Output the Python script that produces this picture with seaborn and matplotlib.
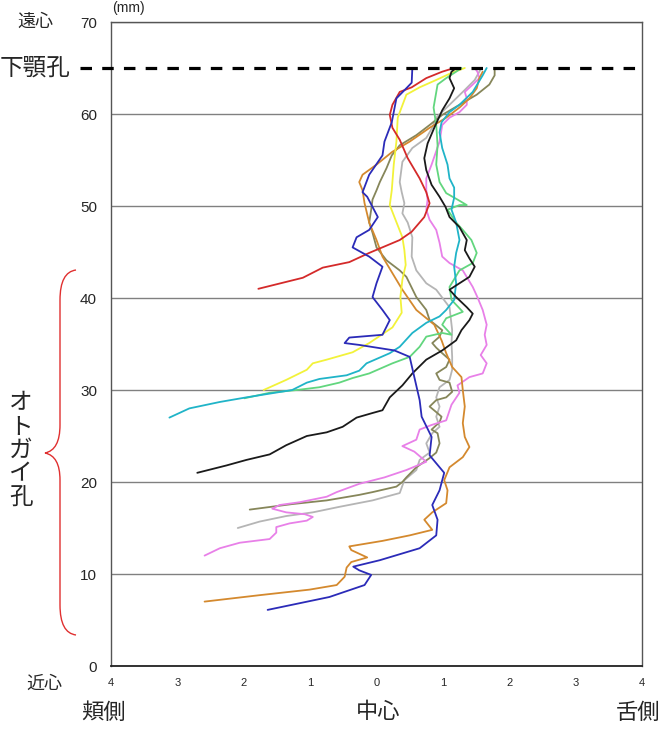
import numpy as np
import pandas as pd
import matplotlib
matplotlib.use('Agg')
import matplotlib.pyplot as plt
import seaborn as sns
from matplotlib.path import Path
from matplotlib.patches import PathPatch

# Canal course per specimen: lateral position (mm, buccal < 0 < lingual) vs height (mm)
blue_x = [-1.64, -0.71, -0.18, -0.08, -0.26, -0.35, 0.05, 0.65, 0.90, 0.92, 0.84, 0.95, 1.02, 0.80, 0.83, 0.68, 0.65, 0.57, 0.50, 0.27, -0.26, -0.48, -0.41, 0.09, 0.20, 0.09, -0.06, 0.0, 0.09, -0.11, -0.36, -0.30, -0.11, 0.02, -0.06, -0.14, -0.21, -0.11, 0.09, 0.12, 0.23, 0.30, 0.45, 0.53, 0.54]
blue_y = [6.1, 7.5, 8.8, 9.9, 10.4, 10.8, 11.5, 12.8, 14.2, 15.9, 17.5, 19.1, 21.0, 22.9, 24.9, 27.1, 28.9, 31.4, 33.6, 34.3, 34.9, 35.1, 35.7, 36.0, 37.6, 38.7, 40.1, 41.6, 43.4, 44.5, 45.5, 46.6, 47.4, 48.8, 49.9, 51.0, 51.5, 53.4, 55.5, 57.0, 59.1, 61.7, 62.8, 63.4, 65.0]

red_x = [-1.78, -1.11, -0.81, -0.41, -0.11, 0.35, 0.53, 0.72, 0.80, 0.75, 0.65, 0.47, 0.35, 0.24, 0.20, 0.24, 0.35, 0.53, 0.75, 0.99, 1.17]
red_y = [41.0, 42.2, 43.3, 43.9, 44.9, 46.3, 47.2, 48.8, 50.3, 51.5, 53.0, 55.2, 57.2, 58.5, 59.9, 61.0, 62.4, 62.9, 63.9, 64.6, 65.0]

yellow_x = [-1.70, -1.36, -1.05, -0.96, -0.75, -0.36, -0.11, 0.24, 0.38, 0.36, 0.39, 0.44, 0.42, 0.39, 0.27, 0.20, 0.23, 0.26, 0.30, 0.32, 0.45, 0.65, 0.90, 1.14, 1.33]
yellow_y = [30.0, 31.1, 32.2, 32.9, 33.3, 34.1, 35.1, 36.8, 38.4, 40.1, 42.0, 43.6, 45.2, 46.6, 48.8, 50.1, 51.7, 54.5, 57.0, 59.6, 62.1, 62.9, 63.7, 64.5, 65.0]

cyan_x = [-3.12, -2.82, -2.36, -1.96, -1.27, -1.05, -0.86, -0.45, -0.26, -0.15, 0.20, 0.35, 0.54, 0.75, 0.95, 1.05, 1.17, 1.20, 1.17, 1.20, 1.25, 1.20, 1.13, 1.17, 1.17, 1.10, 1.07, 0.99, 0.95, 0.98, 1.10, 1.25, 1.45, 1.60, 1.66]
cyan_y = [27.0, 28.0, 28.7, 29.2, 30.0, 30.8, 31.2, 31.6, 32.1, 32.9, 34.0, 34.7, 36.2, 37.3, 38.0, 38.7, 39.8, 41.6, 43.4, 44.9, 46.3, 48.2, 49.6, 50.9, 52.0, 53.0, 54.5, 56.3, 58.0, 59.1, 60.2, 61.0, 62.4, 64.2, 65.0]

green_x = [-1.99, -1.61, -1.20, -0.86, -0.56, -0.36, -0.11, 0.24, 0.50, 0.65, 0.75, 0.99, 1.13, 0.99, 1.05, 1.30, 1.13, 1.10, 1.25, 1.45, 1.51, 1.43, 1.30, 1.20, 1.07, 1.25, 1.36, 1.22, 1.05, 0.95, 0.90, 0.92, 0.90, 0.86, 0.92, 1.05, 1.20, 1.28]
green_y = [29.1, 29.7, 30.0, 30.3, 30.8, 31.3, 31.8, 32.9, 33.6, 34.7, 35.8, 36.2, 36.0, 37.1, 37.8, 38.5, 39.8, 41.2, 43.0, 43.8, 44.9, 46.3, 47.4, 48.2, 49.6, 50.1, 50.1, 50.7, 51.4, 52.6, 54.5, 56.6, 58.8, 60.7, 63.2, 63.9, 64.6, 65.0]

black_x = [-2.70, -2.26, -1.96, -1.61, -1.36, -1.05, -0.75, -0.51, -0.30, -0.06, 0.09, 0.20, 0.39, 0.54, 0.75, 0.99, 1.20, 1.28, 1.40, 1.45, 1.36, 1.20, 1.10, 1.25, 1.40, 1.48, 1.40, 1.33, 1.36, 1.25, 1.10, 1.04, 0.95, 0.83, 0.75, 0.72, 0.77, 0.87, 0.99, 1.10, 1.17, 1.10, 1.13, 1.20]
black_y = [21.0, 21.8, 22.4, 23.0, 24.0, 25.0, 25.4, 26.0, 27.0, 27.5, 27.8, 29.2, 30.5, 31.8, 33.3, 34.3, 35.4, 36.5, 37.6, 38.3, 39.0, 40.1, 40.9, 41.6, 42.3, 43.4, 44.3, 45.2, 46.3, 47.7, 48.8, 49.9, 51.0, 52.3, 53.9, 55.2, 56.8, 58.5, 60.4, 61.7, 62.8, 63.9, 64.6, 65.0]

violet_x = [-2.59, -2.36, -2.06, -1.61, -1.51, -1.51, -1.31, -1.05, -0.96, -1.08, -1.36, -1.57, -1.46, -1.16, -0.75, -0.60, -0.26, 0.12, 0.45, 0.75, 0.57, 0.39, 0.60, 0.65, 0.83, 1.05, 1.13, 1.25, 1.22, 1.40, 1.60, 1.66, 1.57, 1.66, 1.63, 1.66, 1.60, 1.52, 1.45, 1.30, 1.10, 0.99, 0.95, 0.90, 0.80, 0.75, 0.77, 0.75, 0.75, 0.83, 0.95, 0.99, 1.10, 1.25, 1.36, 1.36, 1.33, 1.45, 1.55, 1.52, 1.48]
violet_y = [12.0, 12.8, 13.4, 13.8, 14.5, 15.1, 15.5, 15.8, 16.2, 16.5, 16.7, 17.1, 17.5, 17.8, 18.4, 18.9, 19.8, 20.5, 21.3, 22.2, 23.3, 23.9, 24.6, 25.7, 26.2, 26.7, 28.4, 29.7, 30.5, 31.4, 31.8, 32.9, 33.8, 34.9, 36.0, 37.1, 38.7, 40.1, 41.2, 43.0, 43.8, 44.5, 46.0, 47.4, 48.5, 49.6, 50.7, 51.7, 53.0, 54.5, 57.0, 58.8, 59.6, 60.2, 61.0, 61.7, 62.4, 63.2, 63.9, 64.6, 65.0]

olive_x = [-1.91, -1.27, -0.75, -0.26, -0.06, 0.30, 0.39, 0.45, 0.60, 0.80, 0.90, 0.95, 0.92, 0.83, 0.95, 0.98, 0.90, 0.80, 0.90, 1.05, 1.14, 1.10, 0.95, 0.90, 1.05, 1.10, 0.99, 0.90, 0.84, 0.95, 0.99, 0.80, 0.75, 0.60, 0.45, 0.35, 0.15, 0.0, -0.06, -0.11, -0.08, -0.06, 0.0, 0.05, 0.15, 0.23, 0.35, 0.60, 0.80, 0.99, 1.25, 1.51, 1.70, 1.78, 1.78]
olive_y = [17.0, 17.6, 18.0, 18.6, 18.9, 19.5, 20.0, 20.5, 21.6, 22.6, 23.2, 24.2, 25.3, 25.7, 26.5, 27.1, 27.6, 28.2, 28.9, 29.2, 29.8, 30.8, 31.1, 31.8, 32.5, 33.3, 34.0, 34.6, 35.1, 35.8, 36.5, 37.6, 38.7, 40.1, 42.3, 43.0, 44.1, 45.5, 47.1, 48.2, 49.6, 50.7, 51.7, 52.6, 54.1, 55.5, 56.6, 57.7, 58.8, 59.9, 61.0, 62.1, 63.2, 64.2, 65.0]

gray_x = [-2.09, -1.76, -1.36, -0.96, -0.56, -0.06, 0.35, 0.42, 0.60, 0.65, 0.80, 0.75, 0.84, 0.95, 0.90, 0.95, 0.90, 0.95, 1.10, 1.14, 1.14, 1.13, 1.14, 1.10, 0.90, 0.75, 0.60, 0.53, 0.54, 0.47, 0.39, 0.42, 0.38, 0.35, 0.39, 0.54, 0.75, 0.84, 0.90, 1.10, 1.30, 1.48, 1.58]
gray_y = [15.0, 15.7, 16.3, 16.7, 17.3, 18.0, 18.8, 20.2, 21.3, 22.4, 23.2, 24.2, 25.3, 26.0, 27.1, 28.2, 29.2, 30.3, 31.1, 32.2, 33.6, 35.1, 36.5, 39.0, 40.9, 41.6, 43.0, 44.5, 46.6, 48.2, 49.2, 50.3, 51.5, 52.6, 54.8, 56.3, 57.4, 58.5, 59.6, 61.0, 62.4, 63.7, 65.0]

orange_x = [-2.59, -1.76, -1.01, -0.60, -0.48, -0.45, -0.38, -0.14, -0.38, -0.41, 0.09, 0.50, 0.84, 0.72, 0.84, 1.05, 1.07, 1.02, 1.10, 1.30, 1.40, 1.33, 1.30, 1.33, 1.30, 1.28, 1.14, 1.05, 0.98, 0.87, 0.60, 0.39, 0.24, 0.09, 0.0, -0.11, -0.18, -0.21, -0.26, -0.21, 0.0, 0.24, 0.50, 0.80, 1.05, 1.25, 1.40, 1.51, 1.55, 1.60]
orange_y = [7.0, 7.7, 8.3, 8.8, 9.7, 10.7, 11.3, 11.8, 12.6, 13.0, 13.6, 14.2, 14.8, 15.9, 16.7, 17.7, 19.1, 20.2, 21.6, 22.7, 23.8, 24.9, 26.4, 28.2, 30.0, 31.4, 32.5, 34.0, 35.4, 37.1, 38.7, 40.9, 42.7, 44.5, 46.3, 48.2, 50.3, 51.7, 52.6, 53.4, 54.5, 55.9, 57.0, 58.5, 59.6, 60.7, 61.7, 62.8, 63.9, 64.6]

curves = [
    (gray_x, gray_y, '#b5b5b5'),
    (olive_x, olive_y, '#86865a'),
    (violet_x, violet_y, '#e880e8'),
    (orange_x, orange_y, '#d4892e'),
    (yellow_x, yellow_y, '#f2f23a'),
    (green_x, green_y, '#62d67e'),
    (cyan_x, cyan_y, '#20b4c8'),
    (red_x, red_y, '#d42a2a'),
    (black_x, black_y, '#1a1a1a'),
    (blue_x, blue_y, '#2b2bb8'),
]

x_ticks = [-4, -3, -2, -1, 0, 1, 2, 3, 4]
x_tick_labels = ['4', '3', '2', '1', '0', '1', '2', '3', '4']
y_ticks = [0, 10, 20, 30, 40, 50, 60, 70]
foramen_level = 65

sns.set_style('white')
plt.rcParams['font.family'] = ['Liberation Sans', 'Noto Sans CJK JP']
jp = ['Noto Sans CJK JP', 'DejaVu Sans']

W, H = 662, 736
fig = plt.figure(figsize=(W / 100, H / 100), dpi=100)
ax = fig.add_axes([111 / W, 1 - 666 / H, 531 / W, 644 / H])

for xs, ys, c in curves:
    sns.lineplot(x=xs, y=ys, sort=False, estimator=None, color=c, lw=1.3, ax=ax,
                 solid_joinstyle='round', solid_capstyle='round')

ax.set_xlim(-4, 4)
ax.set_ylim(0, 70)
ax.set_xticks(x_ticks)
ax.set_xticklabels(x_tick_labels, fontsize=8)
ax.set_yticks(y_ticks)
ax.tick_params(axis='y', length=0, pad=10, labelsize=11)
ax.tick_params(axis='x', direction='in', length=4, width=0.8, color='#888888', pad=9)
ax.yaxis.grid(True, color='#808080', lw=1)
ax.xaxis.grid(False)
for s in ['left', 'top', 'right']:
    ax.spines[s].set_color('#555555')
    ax.spines[s].set_linewidth(1)
ax.spines['bottom'].set_color('#222222')
ax.spines['bottom'].set_linewidth(1.3)

# mandibular foramen level
ax.axhline(foramen_level, xmin=(80 - 111) / 531, xmax=1, color='black', lw=2.3,
           ls=(0, (3.6, 3.2)), clip_on=False, zorder=5)

def px(x, y):
    return x / W, 1 - y / H

fig.text(*px(128, 1), '(mm)', fontsize=10, ha='center', va='top')
fig.text(*px(35, 22), '遠心', family=jp, fontsize=13, ha='center', va='center')
fig.text(*px(44, 684), '近心', family=jp, fontsize=13, ha='center', va='center')
fig.text(*px(71, 68), '下顎孔', family=jp, fontsize=17, ha='right', va='center')
fig.text(*px(103, 712), '頬側', family=jp, fontsize=16, ha='center', va='center')
fig.text(*px(378, 712), '中心', family=jp, fontsize=16, ha='center', va='center')
fig.text(*px(660, 712), '舌側', family=jp, fontsize=16, ha='right', va='center')
fig.text(*px(21, 450), '\n'.join('オトガイ孔'), family=jp, fontsize=17,
         ha='center', va='center', linespacing=1.05)

# red brace for mental foramen range
pts = [(76, 270), (60, 272), (60, 300), (60, 425), (60, 450), (45, 453),
       (60, 456), (60, 480), (60, 605), (60, 633), (76, 635)]
codes = [Path.MOVETO, Path.CURVE3, Path.CURVE3, Path.LINETO, Path.CURVE3, Path.CURVE3,
         Path.CURVE3, Path.CURVE3, Path.LINETO, Path.CURVE3, Path.CURVE3]
brace = Path([px(*p) for p in pts], codes)
fig.add_artist(PathPatch(brace, transform=fig.transFigure, fill=False, color='#e03030', lw=1))

fig.savefig('out.png', dpi=100)
